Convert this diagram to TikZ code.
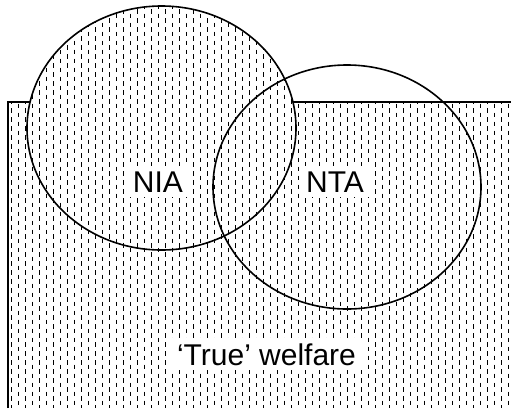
\documentclass[tikz,border=0pt]{standalone}
\usepackage{fontspec}
\setmainfont{Liberation Sans}
\begin{document}
\begin{tikzpicture}[x=1pt,y=-1pt,
  outline/.style={line width=1.6pt},
  dashline/.style={line width=1.5pt, dash pattern=on 4.5pt off 4.5pt},
  lbl/.style={fill=white, inner xsep=6pt, inner ysep=5pt, font=\fontsize{30}{35}\selectfont, anchor=base},
]
\useasboundingbox (0,0) rectangle (511,408);
\newcommand\mydashfill{%
  \foreach \i in {0,...,72} {
    \pgfmathsetmacro\xx{8+3.5+7*\i}
    \pgfmathsetmacro\ph{mod(\i,2)*4.5}
    \draw[dashline, dash phase=\ph pt] (\xx,0) -- (\xx,408);
  }}
% 'True' welfare region
\begin{scope}
  \clip (8,102) rectangle (511,408);
  \mydashfill
\end{scope}
\draw[outline] (8,408) -- (8,102) -- (511,102);
% NIA
\fill[white] (161.5,128) ellipse [x radius=134.5, y radius=122];
\begin{scope}
  \clip (161.5,128) ellipse [x radius=134.5, y radius=122];
  \mydashfill
\end{scope}
\draw[outline] (161.5,128) ellipse [x radius=134.5, y radius=122];
% NTA
\draw[outline] (347,187) ellipse [x radius=134, y radius=122];
% labels
\node[lbl] (nia) at (158,192) {NIA};
\node[lbl] (nta) at (335,192) {NTA};
\node[lbl, inner xsep=8pt] (tw) at (266.5,365) {‘True’ welfare};
\end{tikzpicture}
\end{document}
